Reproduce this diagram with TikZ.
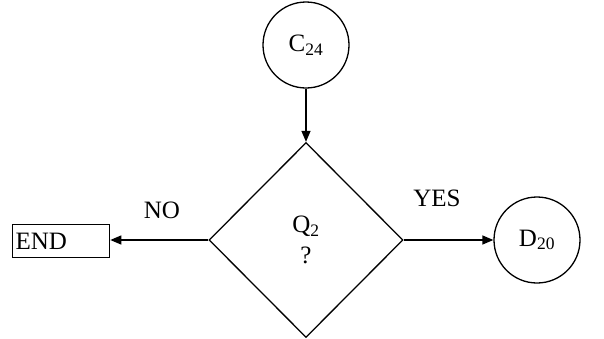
\documentclass[tikz,border=0pt]{standalone}
\usepackage{fontspec}
\setmainfont{Liberation Serif}
\usetikzlibrary{shapes.geometric,arrows.meta}
\begin{document}
\begin{tikzpicture}[x=1pt,y=-1pt,
  line width=1.3pt,
  every node/.style={font=\fontsize{25}{31}\selectfont},
  circ/.style={draw, circle, minimum size=86pt, inner sep=0pt},
  dec/.style={draw, diamond, aspect=1, minimum width=194pt, minimum height=195pt, inner sep=0pt, align=center},
  endbox/.style={draw, rectangle, text width=91pt, minimum height=33pt, inner sep=3pt, align=left, anchor=west},
  arr/.style={-{Triangle[length=11pt,width=9pt]}}]
\useasboundingbox (0,0) rectangle (604,338);
\node[circ] (c) at (306,45) {C\textsubscript{24}};
\node[dec] (q) at (306,240) {Q\textsubscript{2}\\?};
\node[circ] (d) at (537,240) {D\textsubscript{20}};
\node[endbox] (e) at (12,241) {END};
\node (no) at (162,210) {NO};
\node (yes) at (437,198) {YES};
\draw[arr] (c) -- (q.north);
\draw[arr] (q.east) -- (d);
\draw[arr] (q.west) -- (e.east |- q.west);
\end{tikzpicture}
\end{document}
